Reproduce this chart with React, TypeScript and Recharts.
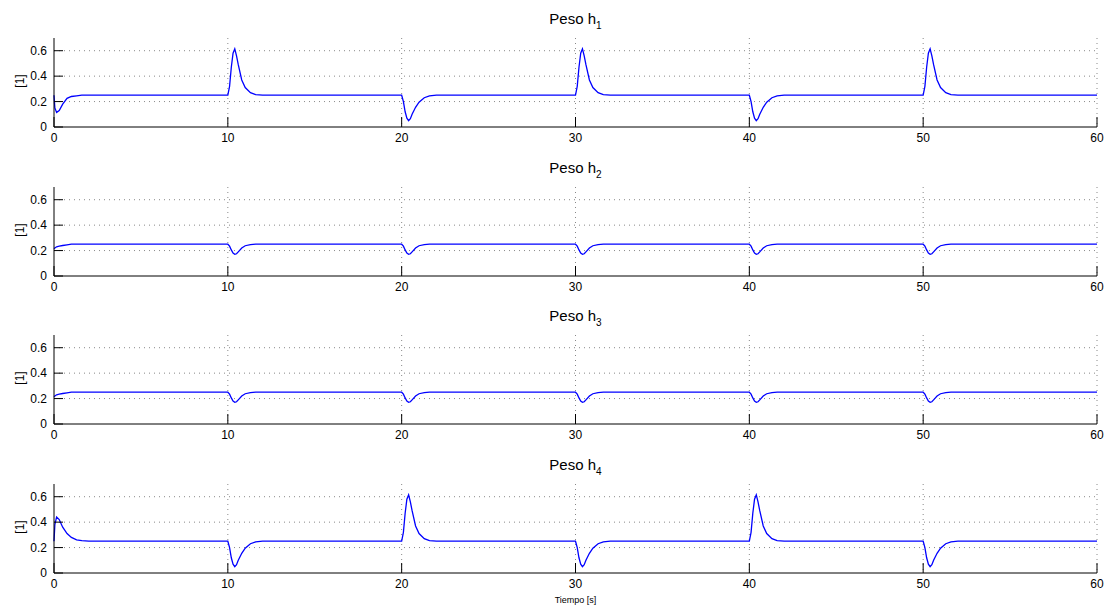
import { LineChart, Line, XAxis, YAxis, CartesianGrid } from "recharts";

// sample times (s), denser around each switching instant
const time = [
  0, 0.05, 0.15, 0.3, 0.5, 0.75, 1, 1.3, 1.6, 2,
  10, 10.1, 10.2, 10.3, 10.4, 10.5, 10.6, 10.8, 11, 11.3, 11.6, 12,
  20, 20.1, 20.2, 20.3, 20.4, 20.5, 20.6, 20.8, 21, 21.3, 21.6, 22,
  30, 30.1, 30.2, 30.3, 30.4, 30.5, 30.6, 30.8, 31, 31.3, 31.6, 32,
  40, 40.1, 40.2, 40.3, 40.4, 40.5, 40.6, 40.8, 41, 41.3, 41.6, 42,
  50, 50.1, 50.2, 50.3, 50.4, 50.5, 50.6, 50.8, 51, 51.3, 51.6, 52,
  60,
];

const h1 = [
  0.25, 0.15, 0.115, 0.13, 0.18, 0.225, 0.24, 0.245, 0.25, 0.25,
  0.25, 0.32, 0.47, 0.58, 0.615, 0.56, 0.49, 0.37, 0.31, 0.27, 0.255, 0.25,
  0.25, 0.2, 0.12, 0.07, 0.05, 0.065, 0.1, 0.155, 0.195, 0.23, 0.245, 0.25,
  0.25, 0.32, 0.47, 0.58, 0.615, 0.56, 0.49, 0.37, 0.31, 0.27, 0.255, 0.25,
  0.25, 0.2, 0.12, 0.07, 0.05, 0.065, 0.1, 0.155, 0.195, 0.23, 0.245, 0.25,
  0.25, 0.32, 0.47, 0.58, 0.615, 0.56, 0.49, 0.37, 0.31, 0.27, 0.255, 0.25,
  0.25,
];

const h2 = [
  0.215, 0.22, 0.23, 0.235, 0.24, 0.245, 0.25, 0.25, 0.25, 0.25,
  0.25, 0.235, 0.205, 0.18, 0.17, 0.175, 0.19, 0.22, 0.238, 0.247, 0.25, 0.25,
  0.25, 0.235, 0.205, 0.18, 0.17, 0.175, 0.19, 0.22, 0.238, 0.247, 0.25, 0.25,
  0.25, 0.235, 0.205, 0.18, 0.17, 0.175, 0.19, 0.22, 0.238, 0.247, 0.25, 0.25,
  0.25, 0.235, 0.205, 0.18, 0.17, 0.175, 0.19, 0.22, 0.238, 0.247, 0.25, 0.25,
  0.25, 0.235, 0.205, 0.18, 0.17, 0.175, 0.19, 0.22, 0.238, 0.247, 0.25, 0.25,
  0.25,
];

const h3 = [
  0.215, 0.22, 0.23, 0.235, 0.24, 0.245, 0.25, 0.25, 0.25, 0.25,
  0.25, 0.235, 0.205, 0.18, 0.17, 0.175, 0.19, 0.22, 0.238, 0.247, 0.25, 0.25,
  0.25, 0.235, 0.205, 0.18, 0.17, 0.175, 0.19, 0.22, 0.238, 0.247, 0.25, 0.25,
  0.25, 0.235, 0.205, 0.18, 0.17, 0.175, 0.19, 0.22, 0.238, 0.247, 0.25, 0.25,
  0.25, 0.235, 0.205, 0.18, 0.17, 0.175, 0.19, 0.22, 0.238, 0.247, 0.25, 0.25,
  0.25, 0.235, 0.205, 0.18, 0.17, 0.175, 0.19, 0.22, 0.238, 0.247, 0.25, 0.25,
  0.25,
];

const h4 = [
  0.25, 0.38, 0.44, 0.42, 0.36, 0.31, 0.28, 0.26, 0.255, 0.25,
  0.25, 0.2, 0.12, 0.07, 0.05, 0.065, 0.1, 0.155, 0.195, 0.23, 0.245, 0.25,
  0.25, 0.32, 0.47, 0.58, 0.615, 0.56, 0.49, 0.37, 0.31, 0.27, 0.255, 0.25,
  0.25, 0.2, 0.12, 0.07, 0.05, 0.065, 0.1, 0.155, 0.195, 0.23, 0.245, 0.25,
  0.25, 0.32, 0.47, 0.58, 0.615, 0.56, 0.49, 0.37, 0.31, 0.27, 0.255, 0.25,
  0.25, 0.2, 0.12, 0.07, 0.05, 0.065, 0.1, 0.155, 0.195, 0.23, 0.245, 0.25,
  0.25,
];

const xTicks = [0, 10, 20, 30, 40, 50, 60];
const yTicks = [0, 0.2, 0.4, 0.6];
const xGrid = [10, 20, 30, 40, 50, 60];
const yGrid = [0.2, 0.4, 0.6];
const subs = ["1", "2", "3", "4"];
const series = [h1, h2, h3, h4];

const W = 1119;
const H = 149;
const panelTop = [0, 149, 297, 446];
const X_MARGIN = 6;
const Y_MARGIN = 7;

const XTick = ({ x, y, payload }: any) => (
  <g>
    <line x1={x} x2={x} y1={y - X_MARGIN} y2={y - X_MARGIN - 10} stroke="#000" />
    <text x={x} y={y} dy="0.71em" textAnchor="middle" fill="#000" fontSize={12}>
      {payload.value}
    </text>
  </g>
);

const YTick = ({ x, y, payload }: any) => (
  <g>
    <line x1={x + Y_MARGIN} x2={x + Y_MARGIN + 9} y1={y} y2={y} stroke="#000" />
    <text x={x} y={y} dy="0.35em" textAnchor="end" fill="#000" fontSize={12}>
      {payload.value}
    </text>
  </g>
);

const Panel = ({ idx }: { idx: number }) => {
  const rows = time.map((t, i) => ({ t, v: series[idx][i] }));
  return (
    <div style={{ position: "absolute", left: 0, top: panelTop[idx], width: W, height: H }}>
      <div
        style={{
          position: "absolute",
          left: 54,
          width: 1043,
          top: 11,
          textAlign: "center",
          fontSize: 15,
          lineHeight: "15px",
          color: "#000",
        }}
      >
        Peso h
        <span style={{ fontSize: 10, position: "relative", top: 5 }}>{subs[idx]}</span>
      </div>
      <div
        style={{
          position: "absolute",
          left: 20,
          top: 81,
          fontSize: 12,
          lineHeight: "12px",
          transform: "translate(-50%, -50%) rotate(-90deg)",
          color: "#000",
        }}
      >
        [1]
      </div>
      <LineChart width={W} height={H} data={rows} margin={{ top: 38, right: 22, bottom: 0, left: 0 }}>
        <CartesianGrid
          stroke="#888"
          strokeDasharray="1 4"
          horizontalValues={yGrid}
          verticalValues={xGrid}
        />
        <XAxis
          type="number"
          dataKey="t"
          domain={[0, 60]}
          ticks={xTicks}
          interval={0}
          height={22}
          tickSize={0}
          tickMargin={X_MARGIN}
          tickLine={false}
          axisLine={{ stroke: "#000" }}
          tick={<XTick />}
        />
        <YAxis
          type="number"
          domain={[0, 0.7]}
          ticks={yTicks}
          interval={0}
          width={54}
          tickSize={0}
          tickMargin={Y_MARGIN}
          tickLine={false}
          axisLine={{ stroke: "#000" }}
          tick={<YTick />}
        />
        <Line
          type="linear"
          dataKey="v"
          stroke="#0000ff"
          strokeWidth={1.3}
          dot={false}
          isAnimationActive={false}
        />
      </LineChart>
    </div>
  );
};

export default function App() {
  return (
    <div
      style={{
        position: "absolute",
        left: 0,
        top: 0,
        width: W,
        height: 607,
        background: "#fff",
        fontFamily: '"Liberation Sans", Arial, sans-serif',
      }}
    >
      {subs.map((_, i) => (
        <Panel key={i} idx={i} />
      ))}
      <div
        style={{
          position: "absolute",
          left: 54,
          width: 1043,
          top: 596,
          textAlign: "center",
          fontSize: 9,
          lineHeight: "9px",
          color: "#000",
        }}
      >
        Tiempo [s]
      </div>
    </div>
  );
}
